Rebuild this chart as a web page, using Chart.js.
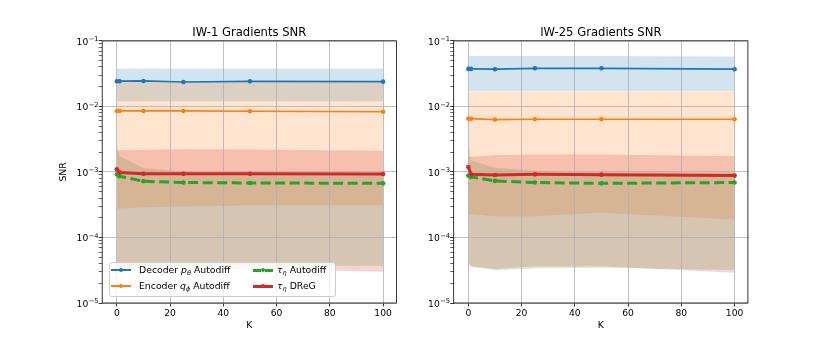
<!DOCTYPE html>
<html>
<head>
<meta charset="utf-8">
<script src="https://cdn.jsdelivr.net/npm/chart.js@4.4.1/dist/chart.umd.min.js"></script>
<style>
  body { margin: 0; background: #fff; }
  #wrap { position: relative; width: 830px; height: 346px; font-family: "DejaVu Sans", sans-serif; }
  canvas { position: absolute; top: 0; }
  #c1 { left: 0; }
  #c2 { left: 415px; }
  .legend { position: absolute; left: 109px; top: 262px; width: 227px; height: 35px; box-sizing: border-box;
            background: rgba(255,255,255,0.8); border: 1px solid #ccc; border-radius: 3px; }
  .hl { position: absolute; width: 20px; }
  .dot { position: absolute; width: 4.6px; height: 4.6px; border-radius: 50%; }
  .lt { position: absolute; font-size: 9.3px; line-height: 12px; color: #000; white-space: nowrap; }
  .lt sub { font-size: 70%; vertical-align: -0.3em; line-height: 0; }
</style>
</head>
<body>
<div id="wrap">
  <canvas id="c1" width="415" height="346"></canvas>
  <canvas id="c2" width="415" height="346"></canvas>
  <div class="legend"></div>
  <!-- legend handles and labels, positioned in page coordinates -->
  <div class="hl" style="left:111px;top:269px;height:1.8px;background:#1f77b4"></div>
  <div class="dot" style="left:118.7px;top:267.6px;background:#1f77b4"></div>
  <div class="lt" style="left:139px;top:264px">Decoder <i>p</i><sub><i>θ</i></sub> Autodiff</div>

  <div class="hl" style="left:111px;top:285px;height:1.8px;background:#ff7f0e"></div>
  <div class="dot" style="left:118.7px;top:283.6px;background:#ff7f0e"></div>
  <div class="lt" style="left:139px;top:280px">Encoder <i>q</i><sub><i>ϕ</i></sub> Autodiff</div>

  <div class="hl" style="left:253px;top:268.5px;height:3px;background:repeating-linear-gradient(to right,#2ca02c 0 8.5px,transparent 8.5px 12.5px)"></div>
  <div class="dot" style="left:260.7px;top:267.7px;background:#2ca02c"></div>
  <div class="lt" style="left:277px;top:264px"><i>τ</i><sub><i>η</i></sub> Autodiff</div>

  <div class="hl" style="left:253px;top:284.5px;height:3px;background:#d62728"></div>
  <div class="dot" style="left:260.7px;top:283.7px;background:#d62728"></div>
  <div class="lt" style="left:277px;top:280px"><i>τ</i><sub><i>η</i></sub> DReG</div>
</div>
<script>
const FONT = 'DejaVu Sans';
Chart.defaults.font.family = FONT;

// x positions (K) and axis ticks
const kValues = [0, 1, 10, 25, 50, 100];
const xTicks = [0, 20, 40, 60, 80, 100];
const yDecades = [1e-5, 1e-4, 1e-3, 1e-2, 1e-1];
const yTickBase = '10';
const yTickExponents = ['−5', '−4', '−3', '−2', '−1'];

// IW-1 panel
const decoderMean1  = [0.0242, 0.0243, 0.0245, 0.0236, 0.0242, 0.0239];
const decoderUpper1 = [0.038, 0.038, 0.038, 0.038, 0.038, 0.038];
const decoderLower1 = [0.0120, 0.0120, 0.0120, 0.0120, 0.0120, 0.0120];
const encoderMean1  = [0.00853, 0.00853, 0.00853, 0.00853, 0.00845, 0.0083];
const encoderUpper1 = [0.0240, 0.0240, 0.0240, 0.0240, 0.0240, 0.0240];
const encoderLower1 = [0.000275, 0.000278, 0.00029, 0.000298, 0.00031, 0.00031];
const tauAutoMean1  = [0.00092, 0.00086, 0.00072, 0.00069, 0.00068, 0.00067];
const tauAutoUpper1 = [0.0026, 0.00174, 0.00115, 0.00101, 0.00096, 0.00094];
const tauAutoLower1 = [3.55e-5, 3.6e-5, 3.65e-5, 3.7e-5, 3.7e-5, 3.7e-5];
const tauDregMean1  = [0.0011, 0.00098, 0.00094, 0.00094, 0.00094, 0.00093];
const tauDregUpper1 = [0.0021, 0.00214, 0.00218, 0.00222, 0.0022, 0.0021];
const tauDregLower1 = [3.4e-5, 3.35e-5, 3.3e-5, 3.3e-5, 3.3e-5, 3.0e-5];

// IW-25 panel
const decoderMean25  = [0.0374, 0.0374, 0.0370, 0.0382, 0.0382, 0.0370];
const decoderUpper25 = [0.059, 0.059, 0.059, 0.059, 0.059, 0.058];
const decoderLower25 = [0.0172, 0.0172, 0.0172, 0.0172, 0.0172, 0.0172];
const encoderMean25  = [0.0065, 0.0065, 0.0063, 0.00637, 0.00637, 0.00637];
const encoderUpper25 = [0.0171, 0.0171, 0.0171, 0.0171, 0.0171, 0.0171];
const encoderLower25 = [0.000231, 0.000228, 0.00021, 0.00021, 0.000239, 0.000188];
const tauAutoMean25  = [0.00088, 0.00084, 0.00073, 0.00069, 0.00067, 0.00069];
const tauAutoUpper25 = [0.0029, 0.00151, 0.00116, 0.00104, 0.00099, 0.00097];
const tauAutoLower25 = [4.2e-5, 3.6e-5, 3.15e-5, 3.35e-5, 3.45e-5, 3.2e-5];
const tauDregMean25  = [0.00119, 0.00092, 0.00090, 0.00092, 0.00091, 0.00088];
const tauDregUpper25 = [0.0017, 0.00171, 0.0018, 0.00185, 0.00185, 0.00173];
const tauDregLower25 = [3.8e-5, 3.6e-5, 3.3e-5, 3.6e-5, 3.65e-5, 2.9e-5];

const BLUE = '#1f77b4', ORANGE = '#ff7f0e', GREEN = '#2ca02c', RED = '#d62728';
const BLUE_A = 'rgba(31,119,180,0.2)', ORANGE_A = 'rgba(255,127,14,0.2)',
      GREEN_A = 'rgba(44,160,44,0.2)', RED_A = 'rgba(214,39,40,0.2)';

function pts(ys) {
  return kValues.map((k, i) => ({ x: k, y: ys[i] }));
}

// upper edge fills down to the following (lower) dataset
function band(upper, lower, fillColor, order) {
  return [
    { data: pts(upper), fill: '+1', backgroundColor: fillColor, borderWidth: 0,
      borderColor: 'rgba(0,0,0,0)', pointRadius: 0, pointHitRadius: 0, order: order },
    { data: pts(lower), fill: false, borderWidth: 0, borderColor: 'rgba(0,0,0,0)',
      pointRadius: 0, pointHitRadius: 0, order: order }
  ];
}

function line(ys, color, width, order, dash) {
  return { data: pts(ys), fill: false, borderColor: color, backgroundColor: color,
           borderWidth: width, borderDash: dash || [], pointRadius: 2.3, pointBorderWidth: 0,
           pointBackgroundColor: color, order: order };
}

// draws the full box around the plot area
const frame = {
  id: 'frame',
  afterDatasetsDraw(chart) {
    const { ctx, chartArea: a } = chart;
    ctx.save();
    ctx.strokeStyle = '#000';
    ctx.lineWidth = 0.8;
    ctx.strokeRect(a.left, a.top, a.right - a.left, a.bottom - a.top);
    ctx.restore();
  }
};

// log tick labels as 10 with a raised exponent, like matplotlib
const yLabels = {
  id: 'yLabels',
  afterDraw(chart) {
    const { ctx, chartArea } = chart;
    const y = chart.scales.y;
    const right = chartArea.left - 3.7;
    ctx.save();
    ctx.fillStyle = '#000';
    ctx.textBaseline = 'alphabetic';
    ctx.textAlign = 'left';
    yDecades.forEach((d, i) => {
      const py = y.getPixelForValue(d);
      ctx.font = '6.7px "DejaVu Sans"';
      const ew = ctx.measureText(yTickExponents[i]).width;
      ctx.fillText(yTickExponents[i], right - ew, py + 0.3);
      ctx.font = '9.2px "DejaVu Sans"';
      const bw = ctx.measureText(yTickBase).width;
      ctx.fillText(yTickBase, right - ew - bw - 0.4, py + 3.6);
    });
    ctx.restore();
  }
};

function makeChart(id, title, series, showYTitle, padLeft, yWidth, padRight) {
  const datasets = [
    ...band(series.decUp, series.decLo, BLUE_A, 8),
    ...band(series.encUp, series.encLo, ORANGE_A, 7),
    ...band(series.autoUp, series.autoLo, GREEN_A, 6),
    ...band(series.dregUp, series.dregLo, RED_A, 5),
    line(series.dec, BLUE, 1.7, 4),
    line(series.enc, ORANGE, 1.7, 3),
    line(series.auto, GREEN, 3, 2, [10, 4.5]),
    line(series.dreg, RED, 3, 1)
  ];
  return new Chart(document.getElementById(id), {
    type: 'line',
    data: { datasets },
    plugins: [frame, yLabels],
    options: {
      responsive: false,
      animation: false,
      layout: { padding: { left: padLeft, right: padRight, top: 20, bottom: 14.4 } },
      plugins: {
        legend: { display: false },
        tooltip: { enabled: false },
        filler: { drawTime: 'beforeDraw' },
        title: { display: true, text: title, color: '#000', fullSize: false,
                 font: { family: FONT, size: 11.6, weight: 'normal' }, padding: { top: 6, bottom: 1 } }
      },
      scales: {
        x: {
          type: 'linear', min: -5.5, max: 105,
          afterBuildTicks: axis => { axis.ticks = xTicks.map(v => ({ value: v })); },
          afterFit: s => { s.height = 28.6; },
          ticks: { color: '#000', font: { family: FONT, size: 9.2 }, padding: 2, maxRotation: 0, autoSkip: false },
          grid: { color: '#b0b0b0', lineWidth: 0.8, tickColor: '#000', tickLength: 3.5, tickWidth: 0.8 },
          border: { display: false },
          title: { display: true, text: 'K', color: '#000', font: { family: FONT, size: 9.3 }, padding: { top: 0, bottom: 0 } }
        },
        y: {
          type: 'logarithmic', min: 1e-5, max: 1e-1,
          afterBuildTicks: axis => {
            const t = [];
            yDecades.forEach((d, i) => {
              t.push({ value: d });
              if (i < yDecades.length - 1) {
                for (let m = 2; m <= 9; m++) t.push({ value: m * d });
              }
            });
            axis.ticks = t;
          },
          afterFit: s => { s.width = yWidth; },
          ticks: { display: false, autoSkip: false },
          grid: {
            color: c => (c.tick && yDecades.indexOf(c.tick.value) >= 0) ? '#b0b0b0' : 'rgba(0,0,0,0)',
            lineWidth: 0.8, tickColor: '#000', tickLength: 3.5,
            tickWidth: c => (c.tick && yDecades.indexOf(c.tick.value) >= 0) ? 0.8 : 0.6
          },
          border: { display: false },
          title: { display: showYTitle, text: 'SNR', color: '#000', font: { family: FONT, size: 9.3 }, padding: { top: 2, bottom: 0 } }
        }
      }
    }
  });
}

makeChart('c1', 'IW-1 Gradients SNR', {
  dec: decoderMean1, decUp: decoderUpper1, decLo: decoderLower1,
  enc: encoderMean1, encUp: encoderUpper1, encLo: encoderLower1,
  auto: tauAutoMean1, autoUp: tauAutoUpper1, autoLo: tauAutoLower1,
  dreg: tauDregMean1, dregUp: tauDregUpper1, dregLo: tauDregLower1
}, true, 56.4, 45.8, 18.6);

makeChart('c2', 'IW-25 Gradients SNR', {
  dec: decoderMean25, decUp: decoderUpper25, decLo: decoderLower25,
  enc: encoderMean25, encUp: encoderUpper25, encLo: encoderLower25,
  auto: tauAutoMean25, autoUp: tauAutoUpper25, autoLo: tauAutoLower25,
  dreg: tauDregMean25, dregUp: tauDregUpper25, dregLo: tauDregLower25
}, false, 0, 38.7, 82.1);
</script>
</body>
</html>
